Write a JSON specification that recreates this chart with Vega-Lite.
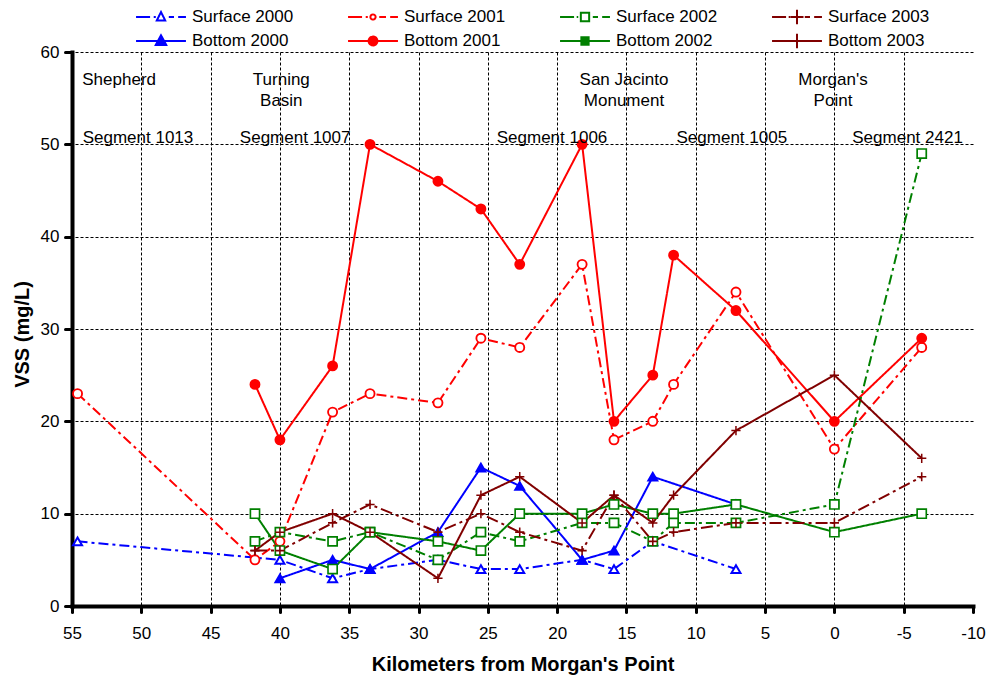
{
  "$schema": "https://vega.github.io/schema/vega-lite/v6.json",
  "width": 901,
  "height": 554,
  "autosize": {"type": "none"},
  "padding": {"left": 72, "top": 52, "right": 14, "bottom": 71},
  "background": "white",
  "config": {
    "view": {"stroke": null},
    "font": "Liberation Sans",
    "axis": {
      "labelFont": "Liberation Sans",
      "labelFontSize": 17,
      "labelColor": "black",
      "titleFont": "Liberation Sans",
      "titleFontSize": 20,
      "titleFontWeight": "bold",
      "titleColor": "black",
      "grid": true,
      "gridColor": "black",
      "gridDash": [3, 2],
      "gridWidth": 1,
      "domainColor": "black",
      "domainWidth": 4,
      "domainCap": "square",
      "tickColor": "black",
      "tickWidth": 3,
      "tickCap": "round",
      "labelFlush": false,
      "labelOverlap": false
    }
  },
  "datasets": {
    "obs": [
      {"series": "Surface 2000", "km": 54.6, "v": 7},
      {"series": "Surface 2000", "km": 40, "v": 5},
      {"series": "Surface 2000", "km": 36.2, "v": 3},
      {"series": "Surface 2000", "km": 33.5, "v": 4},
      {"series": "Surface 2000", "km": 28.6, "v": 5},
      {"series": "Surface 2000", "km": 25.5, "v": 4},
      {"series": "Surface 2000", "km": 22.7, "v": 4},
      {"series": "Surface 2000", "km": 18.2, "v": 5},
      {"series": "Surface 2000", "km": 15.9, "v": 4},
      {"series": "Surface 2000", "km": 13.1, "v": 7},
      {"series": "Surface 2000", "km": 7.1, "v": 4},

      {"series": "Bottom 2000", "km": 40, "v": 3},
      {"series": "Bottom 2000", "km": 36.2, "v": 5},
      {"series": "Bottom 2000", "km": 33.5, "v": 4},
      {"series": "Bottom 2000", "km": 28.6, "v": 8},
      {"series": "Bottom 2000", "km": 25.5, "v": 15},
      {"series": "Bottom 2000", "km": 22.7, "v": 13},
      {"series": "Bottom 2000", "km": 18.2, "v": 5},
      {"series": "Bottom 2000", "km": 15.9, "v": 6},
      {"series": "Bottom 2000", "km": 13.1, "v": 14},
      {"series": "Bottom 2000", "km": 7.1, "v": 11},

      {"series": "Surface 2001", "km": 54.6, "v": 23},
      {"series": "Surface 2001", "km": 41.8, "v": 5},
      {"series": "Surface 2001", "km": 40, "v": 7},
      {"series": "Surface 2001", "km": 36.2, "v": 21},
      {"series": "Surface 2001", "km": 33.5, "v": 23},
      {"series": "Surface 2001", "km": 28.6, "v": 22},
      {"series": "Surface 2001", "km": 25.5, "v": 29},
      {"series": "Surface 2001", "km": 22.7, "v": 28},
      {"series": "Surface 2001", "km": 18.2, "v": 37},
      {"series": "Surface 2001", "km": 15.9, "v": 18},
      {"series": "Surface 2001", "km": 13.1, "v": 20},
      {"series": "Surface 2001", "km": 11.6, "v": 24},
      {"series": "Surface 2001", "km": 7.1, "v": 34},
      {"series": "Surface 2001", "km": 0, "v": 17},
      {"series": "Surface 2001", "km": -6.3, "v": 28},

      {"series": "Bottom 2001", "km": 41.8, "v": 24},
      {"series": "Bottom 2001", "km": 40, "v": 18},
      {"series": "Bottom 2001", "km": 36.2, "v": 26},
      {"series": "Bottom 2001", "km": 33.5, "v": 50},
      {"series": "Bottom 2001", "km": 28.6, "v": 46},
      {"series": "Bottom 2001", "km": 25.5, "v": 43},
      {"series": "Bottom 2001", "km": 22.7, "v": 37},
      {"series": "Bottom 2001", "km": 18.2, "v": 50},
      {"series": "Bottom 2001", "km": 15.9, "v": 20},
      {"series": "Bottom 2001", "km": 13.1, "v": 25},
      {"series": "Bottom 2001", "km": 11.6, "v": 38},
      {"series": "Bottom 2001", "km": 7.1, "v": 32},
      {"series": "Bottom 2001", "km": 0, "v": 20},
      {"series": "Bottom 2001", "km": -6.3, "v": 29},

      {"series": "Surface 2002", "km": 41.8, "v": 7},
      {"series": "Surface 2002", "km": 40, "v": 8},
      {"series": "Surface 2002", "km": 36.2, "v": 7},
      {"series": "Surface 2002", "km": 33.5, "v": 8},
      {"series": "Surface 2002", "km": 28.6, "v": 5},
      {"series": "Surface 2002", "km": 25.5, "v": 8},
      {"series": "Surface 2002", "km": 22.7, "v": 7},
      {"series": "Surface 2002", "km": 18.2, "v": 9},
      {"series": "Surface 2002", "km": 15.9, "v": 9},
      {"series": "Surface 2002", "km": 13.1, "v": 7},
      {"series": "Surface 2002", "km": 11.6, "v": 9},
      {"series": "Surface 2002", "km": 7.1, "v": 9},
      {"series": "Surface 2002", "km": 0, "v": 11},
      {"series": "Surface 2002", "km": -6.3, "v": 49},

      {"series": "Bottom 2002", "km": 41.8, "v": 10},
      {"series": "Bottom 2002", "km": 40, "v": 6},
      {"series": "Bottom 2002", "km": 36.2, "v": 4},
      {"series": "Bottom 2002", "km": 33.5, "v": 8},
      {"series": "Bottom 2002", "km": 28.6, "v": 7},
      {"series": "Bottom 2002", "km": 25.5, "v": 6},
      {"series": "Bottom 2002", "km": 22.7, "v": 10},
      {"series": "Bottom 2002", "km": 18.2, "v": 10},
      {"series": "Bottom 2002", "km": 15.9, "v": 11},
      {"series": "Bottom 2002", "km": 13.1, "v": 10},
      {"series": "Bottom 2002", "km": 11.6, "v": 10},
      {"series": "Bottom 2002", "km": 7.1, "v": 11},
      {"series": "Bottom 2002", "km": 0, "v": 8},
      {"series": "Bottom 2002", "km": -6.3, "v": 10},

      {"series": "Surface 2003", "km": 41.8, "v": 6},
      {"series": "Surface 2003", "km": 40, "v": 6},
      {"series": "Surface 2003", "km": 36.2, "v": 9},
      {"series": "Surface 2003", "km": 33.5, "v": 11},
      {"series": "Surface 2003", "km": 28.6, "v": 8},
      {"series": "Surface 2003", "km": 25.5, "v": 10},
      {"series": "Surface 2003", "km": 22.7, "v": 8},
      {"series": "Surface 2003", "km": 18.2, "v": 6},
      {"series": "Surface 2003", "km": 15.9, "v": 12},
      {"series": "Surface 2003", "km": 13.1, "v": 7},
      {"series": "Surface 2003", "km": 11.6, "v": 8},
      {"series": "Surface 2003", "km": 7.1, "v": 9},
      {"series": "Surface 2003", "km": 0, "v": 9},
      {"series": "Surface 2003", "km": -6.3, "v": 14},

      {"series": "Bottom 2003", "km": 41.8, "v": 6},
      {"series": "Bottom 2003", "km": 40, "v": 8},
      {"series": "Bottom 2003", "km": 36.2, "v": 10},
      {"series": "Bottom 2003", "km": 33.5, "v": 8},
      {"series": "Bottom 2003", "km": 28.6, "v": 3},
      {"series": "Bottom 2003", "km": 25.5, "v": 12},
      {"series": "Bottom 2003", "km": 22.7, "v": 14},
      {"series": "Bottom 2003", "km": 18.2, "v": 9},
      {"series": "Bottom 2003", "km": 15.9, "v": 12},
      {"series": "Bottom 2003", "km": 13.1, "v": 9},
      {"series": "Bottom 2003", "km": 11.6, "v": 12},
      {"series": "Bottom 2003", "km": 7.1, "v": 19},
      {"series": "Bottom 2003", "km": 0, "v": 25},
      {"series": "Bottom 2003", "km": -6.3, "v": 16}
    ],
    "notes": [
      {"km": 51.6, "v": 57, "t": "Shepherd"},
      {"km": 39.9, "v": 57, "t": "Turning"},
      {"km": 39.9, "v": 54.7, "t": "Basin"},
      {"km": 15.18, "v": 57, "t": "San Jacinto"},
      {"km": 15.18, "v": 54.7, "t": "Monument"},
      {"km": 0.1, "v": 57, "t": "Morgan's"},
      {"km": 0.1, "v": 54.7, "t": "Point"},
      {"km": 50.24, "v": 50.65, "t": "Segment 1013"},
      {"km": 38.9, "v": 50.65, "t": "Segment 1007"},
      {"km": 20.37, "v": 50.65, "t": "Segment 1006"},
      {"km": 7.4, "v": 50.65, "t": "Segment 1005"},
      {"km": -5.28, "v": 50.65, "t": "Segment 2421"}
    ]
  },
  "encoding": {
    "x": {
      "field": "km",
      "type": "quantitative",
      "scale": {"domain": [-10, 55], "reverse": true, "nice": false, "zero": false},
      "axis": {
        "values": [-10, -5, 0, 5, 10, 15, 20, 25, 30, 35, 40, 45, 50, 55],
        "title": "Kilometers from Morgan's Point",
        "labelExpr": "'' + datum.value",
        "tickSize": 6,
        "labelPadding": 13,
        "titlePadding": 13,
        "gridOpacity": {"condition": {"test": "datum.value == -10", "value": 0}, "value": 1}
      }
    },
    "y": {
      "field": "v",
      "type": "quantitative",
      "scale": {"domain": [0, 60], "nice": false},
      "axis": {
        "values": [0, 10, 20, 30, 40, 50, 60],
        "title": "VSS (mg/L)",
        "tickSize": 7,
        "labelPadding": 6,
        "titlePadding": 8,
        "titleY": 282
      }
    }
  },
  "layer": [
    {
      "data": {"name": "obs"},
      "mark": {"type": "line", "strokeWidth": 2},
      "encoding": {
        "color": {
          "field": "series",
          "type": "nominal",
          "scale": {
            "domain": ["Surface 2000", "Surface 2001", "Surface 2002", "Surface 2003", "Bottom 2000", "Bottom 2001", "Bottom 2002", "Bottom 2003"],
            "range": ["#0000ff", "#ff0000", "#008000", "#800000", "#0000ff", "#ff0000", "#008000", "#800000"]
          },
          "legend": {
            "orient": "none",
            "direction": "horizontal",
            "legendX": 62,
            "legendY": -47,
            "columns": 4,
            "title": null,
            "padding": 0,
            "symbolSize": 2704,
            "clipHeight": 24,
            "rowPadding": 0,
            "columnPadding": 52,
            "labelOffset": 4,
            "gridAlign": "all",
            "labelFont": "Liberation Sans",
            "labelFontSize": 17,
            "labelColor": "black",
            "labelLimit": 200,
            "symbolStrokeWidth": 2,
            "encode": {
              "symbols": {
                "update": {
                  "size": {"value": 2704},
                  "shape": {"signal": "['M-0.96,0H-0.42M-0.28,0H-0.2M0.3,0H0.5M0.66,0H0.96M0,-0.19L0.16,0.13L-0.16,0.13Z', 'M-0.96,0H-0.42M-0.28,0H-0.2M0.24,0H0.5M0.66,0H0.96M-0.1,0A0.1,0.1,0,1,0,0.1,0A0.1,0.1,0,1,0,-0.1,0Z', 'M-0.96,0H-0.42M-0.32,0H-0.26M0.3,0H0.5M0.66,0H0.96M-0.16,-0.16H0.16V0.16H-0.16Z', 'M-0.96,0H-0.42M-0.32,0H-0.26M0.3,0H0.5M0.66,0H0.96M-0.25,0H0.25M0,-0.28V0.28', 'M-0.96,0H0.96M0,-0.22L0.2,0.15L-0.2,0.15Z', 'M-0.96,0H0.96M-0.17,0A0.17,0.17,0,1,0,0.17,0A0.17,0.17,0,1,0,-0.17,0Z', 'M-0.96,0H0.96M-0.14,-0.14H0.14V0.14H-0.14Z', 'M-0.96,0H0.96M0,-0.28V0.28'][indexof(['Surface 2000','Surface 2001','Surface 2002','Surface 2003','Bottom 2000','Bottom 2001','Bottom 2002','Bottom 2003'], datum.value)]"},
                  "fill": {"signal": "['white','white','white','white','#0000ff','#ff0000','#008000','#800000'][indexof(['Surface 2000','Surface 2001','Surface 2002','Surface 2003','Bottom 2000','Bottom 2001','Bottom 2002','Bottom 2003'], datum.value)]"},
                  "strokeDash": {"value": [1, 0]},
                  "strokeWidth": {"value": 2},
                  "opacity": {"value": 1},
                  "fillOpacity": {"value": 1},
                  "strokeOpacity": {"value": 1}
                }
              }
            }
          }
        },
        "strokeDash": {
          "field": "series",
          "type": "nominal",
          "scale": {
            "domain": ["Surface 2000", "Bottom 2000", "Surface 2001", "Bottom 2001", "Surface 2002", "Bottom 2002", "Surface 2003", "Bottom 2003"],
            "range": [[10, 4, 3, 4], [1, 0], [10, 4, 3, 4], [1, 0], [10, 4, 3, 4], [1, 0], [12, 4, 3, 4], [1, 0]]
          },
          "legend": null
        }
      }
    },
    {
      "data": {"name": "obs"},
      "mark": {"type": "point", "filled": false, "opacity": 1},
      "encoding": {
        "stroke": {
          "field": "series",
          "type": "nominal",
          "scale": {
            "domain": ["Surface 2000", "Bottom 2000", "Surface 2001", "Bottom 2001", "Surface 2002", "Bottom 2002", "Surface 2003", "Bottom 2003"],
            "range": ["#0000ff", "#0000ff", "#ff0000", "#ff0000", "#008000", "#008000", "#800000", "#800000"]
          },
          "legend": null
        },
        "fill": {
          "field": "series",
          "type": "nominal",
          "scale": {
            "domain": ["Surface 2000", "Bottom 2000", "Surface 2001", "Bottom 2001", "Surface 2002", "Bottom 2002", "Surface 2003", "Bottom 2003"],
            "range": ["white", "#0000ff", "white", "#ff0000", "white", "white", "#800000", "#800000"]
          },
          "legend": null
        },
        "shape": {
          "field": "series",
          "type": "nominal",
          "scale": {
            "domain": ["Surface 2000", "Bottom 2000", "Surface 2001", "Bottom 2001", "Surface 2002", "Bottom 2002", "Surface 2003", "Bottom 2003"],
            "range": ["triangle-up", "triangle-up", "circle", "circle", "square", "square", "M-1,0H1M0,-1V1", "M-1,0H1M0,-1V1"]
          },
          "legend": null
        },
        "size": {
          "field": "series",
          "type": "nominal",
          "scale": {
            "domain": ["Surface 2000", "Bottom 2000", "Surface 2001", "Bottom 2001", "Surface 2002", "Bottom 2002", "Surface 2003", "Bottom 2003"],
            "range": [81, 85, 16, 81, 64, 49, 170, 170]
          },
          "legend": null
        },
        "strokeWidth": {
          "field": "series",
          "type": "nominal",
          "scale": {
            "domain": ["Surface 2000", "Bottom 2000", "Surface 2001", "Bottom 2001", "Surface 2002", "Bottom 2002", "Surface 2003", "Bottom 2003"],
            "range": [2, 1.5, 1.5, 1.5, 2, 3, 2, 2]
          },
          "legend": null
        }
      }
    },
    {
      "data": {"name": "notes"},
      "mark": {"type": "text", "font": "Liberation Sans", "fontSize": 17, "color": "black", "align": "center", "baseline": "middle"},
      "encoding": {
        "text": {"field": "t", "type": "nominal"}
      }
    }
  ]
}
